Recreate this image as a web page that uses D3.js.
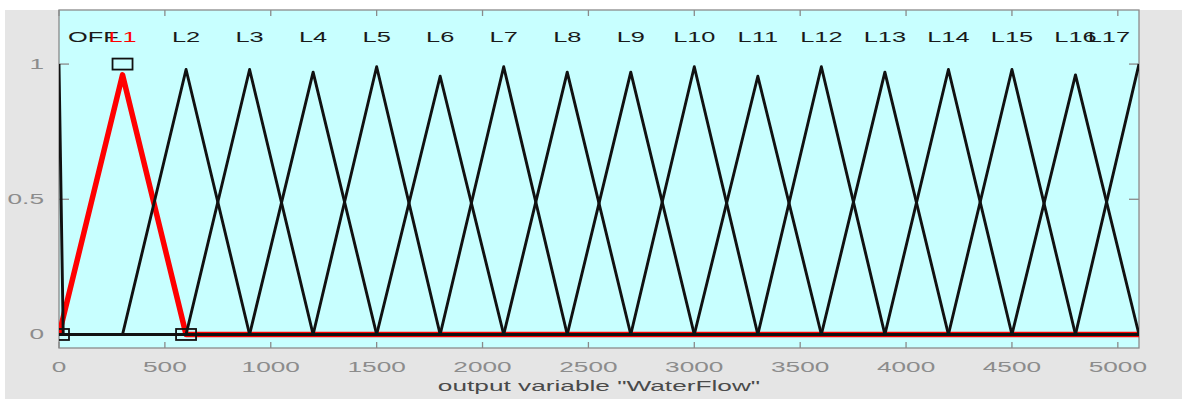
<!DOCTYPE html>
<html>
<head>
<meta charset="utf-8">
<script src="https://cdn.jsdelivr.net/npm/d3@7"></script>
<style>
  html, body { margin: 0; padding: 0; background: #ffffff; }
  svg { display: block; }
  text { font-family: "Liberation Sans", Arial, sans-serif; }
</style>
</head>
<body>
<div id="container"></div>
<script>
/**
 * DATA (membership functions of output "WaterFlow")
 * */
const mfNames = ["OFF", "L1", "L2", "L3", "L4", "L5", "L6", "L7", "L8", "L9",
                 "L10", "L11", "L12", "L13", "L14", "L15", "L16", "L17"];
// triangle vertices [a, b, c]
const mfParams = [
  [-20, 0, 20], [0, 300, 600], [300, 600, 900], [600, 900, 1200],
  [900, 1200, 1500], [1200, 1500, 1800], [1500, 1800, 2100], [1800, 2100, 2400],
  [2100, 2400, 2700], [2400, 2700, 3000], [2700, 3000, 3300], [3000, 3300, 3600],
  [3300, 3600, 3900], [3600, 3900, 4200], [3900, 4200, 4500], [4200, 4500, 4800],
  [4500, 4800, 5100], [4800, 5100, 5400]
];
// plotted peak heights as they appear on the figure
const mfPeaks = [1, 0.96, 0.98, 0.98, 0.97, 0.99, 0.955, 0.99, 0.97, 0.97,
                 0.99, 0.955, 0.99, 0.97, 0.98, 0.98, 0.96, 1];
const selectedMf = "L1";
const xTicks = [0, 500, 1000, 1500, 2000, 2500, 3000, 3500, 4000, 4500, 5000];
const yTicks = [0, 0.5, 1];
const xDomain = [0, 5100];
const yDomain = [-0.05, 1.2];
const xTitle = 'output variable "WaterFlow"';

/**
 * CONSTANTS
 * */
const width = 1182, height = 399;
const box = { left: 59, right: 1139, top: 10, bottom: 348 };
const sx = 1.75; // the picture is stretched sideways, so is its text

const svg = d3.select("#container")
    .append("svg")
    .attr("width", width)
    .attr("height", height);

// figure background
svg.append("rect")
    .attr("x", 5).attr("y", 10)
    .attr("width", width - 5).attr("height", height - 10)
    .attr("fill", "#e5e5e5");

const x = d3.scaleLinear().domain(xDomain).range([box.left, box.right]);
const y = d3.scaleLinear().domain(yDomain).range([box.bottom, box.top]);

svg.append("defs").append("clipPath")
    .attr("id", "clip")
    .append("rect")
    .attr("x", box.left).attr("y", box.top)
    .attr("width", box.right - box.left).attr("height", box.bottom - box.top);

// axes background
svg.append("rect")
    .attr("x", box.left).attr("y", box.top)
    .attr("width", box.right - box.left).attr("height", box.bottom - box.top)
    .attr("fill", "#c8ffff");

// frame and inward ticks
const axisColor = "#8a8a8a";
const frame = svg.append("g").attr("stroke", axisColor).attr("stroke-width", 1.3);
frame.append("rect")
    .attr("x", box.left).attr("y", box.top)
    .attr("width", box.right - box.left).attr("height", box.bottom - box.top)
    .attr("fill", "none");
xTicks.forEach(t => {
    frame.append("line").attr("x1", x(t)).attr("x2", x(t)).attr("y1", box.bottom).attr("y2", box.bottom - 6);
    frame.append("line").attr("x1", x(t)).attr("x2", x(t)).attr("y1", box.top).attr("y2", box.top + 6);
});
yTicks.forEach(t => {
    frame.append("line").attr("x1", box.left).attr("x2", box.left + 10).attr("y1", y(t)).attr("y2", y(t));
    frame.append("line").attr("x1", box.right).attr("x2", box.right - 10).attr("y1", y(t)).attr("y2", y(t));
});

// helper for stretched text
function stretchedText(px, py, str, anchor, size, color) {
    return svg.append("text")
        .attr("transform", `translate(${px},${py}) scale(${sx},1)`)
        .attr("text-anchor", anchor)
        .attr("font-size", size)
        .attr("fill", color)
        .text(str);
}

xTicks.forEach(t => stretchedText(x(t), 372, t, "middle", 15, "#8c8c8c"));
yTicks.forEach(t => stretchedText(44, y(t) + 5, t, "end", 15, "#8c8c8c"));
stretchedText((box.left + box.right) / 2, 391, xTitle, "middle", 15, "#4a4a4a");

// membership function curves over the whole range
const line = d3.line().x(d => x(d[0])).y(d => y(d[1]));
function curvePoints(p, h) {
    const [a, b, c] = p;
    const pts = [];
    if (a > xDomain[0]) pts.push([xDomain[0], 0]);
    if (a >= xDomain[0]) pts.push([a, 0]);
    pts.push([b, h]);
    if (c <= xDomain[1]) pts.push([c, 0]);
    if (c < xDomain[1]) pts.push([xDomain[1], 0]);
    return pts;
}

const mfs = mfNames.map((name, i) => ({ name, params: mfParams[i], peak: mfPeaks[i] }));
const plot = svg.append("g").attr("clip-path", "url(#clip)");

plot.selectAll(".sel")
    .data(mfs.filter(d => d.name === selectedMf))
    .join("path")
    .attr("class", "sel")
    .attr("d", d => line(curvePoints(d.params, d.peak)))
    .attr("fill", "none")
    .attr("stroke", "#ff0000")
    .attr("stroke-width", 5.5)
    .attr("stroke-linejoin", "round");

plot.selectAll(".mf")
    .data(mfs.filter(d => d.name !== selectedMf))
    .join("path")
    .attr("class", "mf")
    .attr("d", d => line(curvePoints(d.params, d.peak)))
    .attr("fill", "none")
    .attr("stroke", "#111111")
    .attr("stroke-width", 2.9)
    .attr("stroke-linejoin", "round");

// parameter markers of the selected function
const sel = mfs.find(d => d.name === selectedMf);
const markerPts = [[sel.params[0], 0], [sel.params[1], 1], [sel.params[2], 0]];
plot.selectAll(".marker")
    .data(markerPts)
    .join("rect")
    .attr("class", "marker")
    .attr("x", d => x(d[0]) - 10)
    .attr("y", d => y(d[1]) - 5.5)
    .attr("width", 20)
    .attr("height", 11)
    .attr("fill", "none")
    .attr("stroke", "#111111")
    .attr("stroke-width", 1.8);

// labels above each function
mfs.forEach(d => {
    const t = stretchedText(0, 42, d.name, "middle", 14.5, d.name === selectedMf ? "#ff0000" : "#1a1a1a");
    const w = t.node().getComputedTextLength() * sx;
    const cx = Math.max(box.left + 9 + w / 2, Math.min(box.right - 9 - w / 2, x(d.params[1])));
    t.attr("transform", `translate(${cx},42) scale(${sx},1)`);
});
</script>
</body>
</html>
